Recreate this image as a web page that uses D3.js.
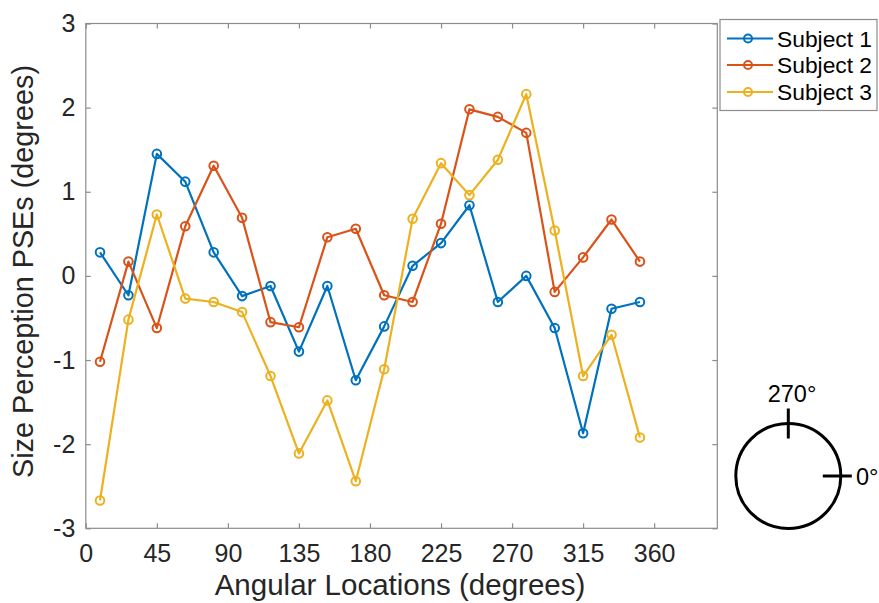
<!DOCTYPE html>
<html>
<head>
<meta charset="utf-8">
<script src="https://cdn.jsdelivr.net/npm/d3@7"></script>
<style>
  html, body { margin: 0; padding: 0; background: #fff; }
  svg { display: block; font-family: "Liberation Sans", Arial, Helvetica, sans-serif; }
</style>
</head>
<body>
<svg id="chart" width="879" height="603"></svg>
<script>
// Angular test locations (degrees)
const angles = [9, 27, 45, 63, 81, 99, 117, 135, 153, 171, 189, 207, 225, 243, 261, 279, 297, 315, 333, 351];

// Size perception PSEs (degrees) per subject
const subject1 = [0.28, -0.23, 1.45, 1.12, 0.28, -0.24, -0.12, -0.90, -0.12, -1.24, -0.60, 0.12, 0.39, 0.84, -0.31, 0.00, -0.62, -1.87, -0.39, -0.31];
const subject2 = [-1.02, 0.17, -0.62, 0.59, 1.31, 0.69, -0.55, -0.61, 0.46, 0.56, -0.23, -0.31, 0.62, 1.98, 1.89, 1.70, -0.19, 0.22, 0.67, 0.17];
const subject3 = [-2.67, -0.52, 0.73, -0.27, -0.31, -0.43, -1.19, -2.11, -1.48, -2.44, -1.11, 0.68, 1.34, 0.96, 1.38, 2.16, 0.54, -1.19, -0.70, -1.92];

const seriesNames = ["Subject 1", "Subject 2", "Subject 3"];
const seriesColors = ["#0072BD", "#D95319", "#EDB120"];
const xTicks = [0, 45, 90, 135, 180, 225, 270, 315, 360];
const yTicks = [-3, -2, -1, 0, 1, 2, 3];

(function draw() {
  const series = [subject1, subject2, subject3].map((vals, i) => ({
    name: seriesNames[i],
    color: seriesColors[i],
    points: angles.map((a, j) => ({ x: a, y: vals[j] }))
  }));

  const svg = d3.select("#chart");
  const m = { left: 85.8, right: 717.3, top: 23.5, bottom: 528.3 };

  const x = d3.scaleLinear().domain([0, 400]).range([m.left, m.right]);
  const y = d3.scaleLinear().domain([-3, 3]).range([m.bottom, m.top]);

  const axisColor = "#8c8c8c";
  const textColor = "#262626";
  const tickLen = 5;
  const plainNum = d => String(d);

  // Axes box
  svg.append("rect")
    .attr("x", m.left).attr("y", m.top)
    .attr("width", m.right - m.left).attr("height", m.bottom - m.top)
    .attr("fill", "none").attr("stroke", axisColor).attr("stroke-width", 1.2);

  // Bottom axis: ticks inward, labels below
  const xAxis = svg.append("g").attr("transform", `translate(0,${m.bottom})`)
    .call(d3.axisBottom(x).tickValues(xTicks).tickFormat(plainNum)
      .tickSizeInner(-tickLen).tickSizeOuter(0).tickPadding(16));
  // Top ticks (box on)
  const xAxisTop = svg.append("g").attr("transform", `translate(0,${m.top})`)
    .call(d3.axisTop(x).tickValues(xTicks).tickSizeInner(-tickLen).tickSizeOuter(0).tickFormat(""));
  // Left axis
  const yAxis = svg.append("g").attr("transform", `translate(${m.left},0)`)
    .call(d3.axisLeft(y).tickValues(yTicks).tickFormat(plainNum)
      .tickSizeInner(-tickLen).tickSizeOuter(0).tickPadding(10.5));
  // Right ticks
  const yAxisRight = svg.append("g").attr("transform", `translate(${m.right},0)`)
    .call(d3.axisRight(y).tickValues(yTicks).tickSizeInner(-tickLen).tickSizeOuter(0).tickFormat(""));

  [xAxis, xAxisTop, yAxis, yAxisRight].forEach(g => {
    g.select(".domain").remove();
    g.selectAll(".tick line").attr("stroke", axisColor).attr("stroke-width", 1.2);
    g.selectAll(".tick text").attr("fill", textColor).attr("font-size", 25)
      .attr("font-family", "'Liberation Sans', Arial, sans-serif");
  });

  // Axis titles
  svg.append("text")
    .attr("x", 400).attr("y", 594.5)
    .attr("text-anchor", "middle").attr("font-size", 29.5).attr("fill", textColor)
    .text("Angular Locations (degrees)");

  svg.append("text")
    .attr("transform", `translate(33,271.5) rotate(-90)`)
    .attr("text-anchor", "middle").attr("font-size", 28.8).attr("fill", textColor)
    .text("Size Perception PSEs (degrees)");

  // Data lines and markers
  const line = d3.line().x(d => x(d.x)).y(d => y(d.y));
  const plot = svg.append("g");
  series.forEach(s => {
    const g = plot.append("g");
    g.append("path").datum(s.points)
      .attr("d", line).attr("fill", "none")
      .attr("stroke", s.color).attr("stroke-width", 2.2).attr("stroke-linejoin", "round");
    g.selectAll("circle").data(s.points).join("circle")
      .attr("cx", d => x(d.x)).attr("cy", d => y(d.y)).attr("r", 4.3)
      .attr("fill", "none").attr("stroke", s.color).attr("stroke-width", 2);
  });

  // Legend
  const legend = svg.append("g");
  legend.append("rect")
    .attr("x", 720).attr("y", 19.5).attr("width", 157).attr("height", 91)
    .attr("fill", "#fff").attr("stroke", axisColor).attr("stroke-width", 1.2);
  const rowY = [38.5, 65, 92];
  series.forEach((s, i) => {
    const ry = rowY[i];
    legend.append("line").attr("x1", 727).attr("x2", 773).attr("y1", ry).attr("y2", ry)
      .attr("stroke", s.color).attr("stroke-width", 2.2);
    legend.append("circle").attr("cx", 748).attr("cy", ry).attr("r", 4)
      .attr("fill", "none").attr("stroke", s.color).attr("stroke-width", 2);
    legend.append("text").attr("x", 777).attr("y", ry + 8)
      .attr("font-size", 22.8).attr("fill", "#000").text(s.name);
  });

  // Orientation diagram: circle with 270° and 0° markers
  const cx = 788.3, cy = 476, r = 52.5;
  const diag = svg.append("g").attr("stroke", "#000").attr("stroke-width", 3).attr("fill", "none");
  diag.append("circle").attr("cx", cx).attr("cy", cy).attr("r", r);
  diag.append("line").attr("x1", cx).attr("x2", cx).attr("y1", cy - r - 15).attr("y2", cy - r + 15);
  diag.append("line").attr("x1", cx + r - 18).attr("x2", cx + r + 11).attr("y1", cy).attr("y2", cy);
  svg.append("text").attr("x", 792).attr("y", 401.5).attr("text-anchor", "middle")
    .attr("font-size", 23.5).attr("fill", "#000").text("270°");
  svg.append("text").attr("x", 856).attr("y", cy + 8.5)
    .attr("font-size", 23.5).attr("fill", "#000").text("0°");
})();
</script>
</body>
</html>
